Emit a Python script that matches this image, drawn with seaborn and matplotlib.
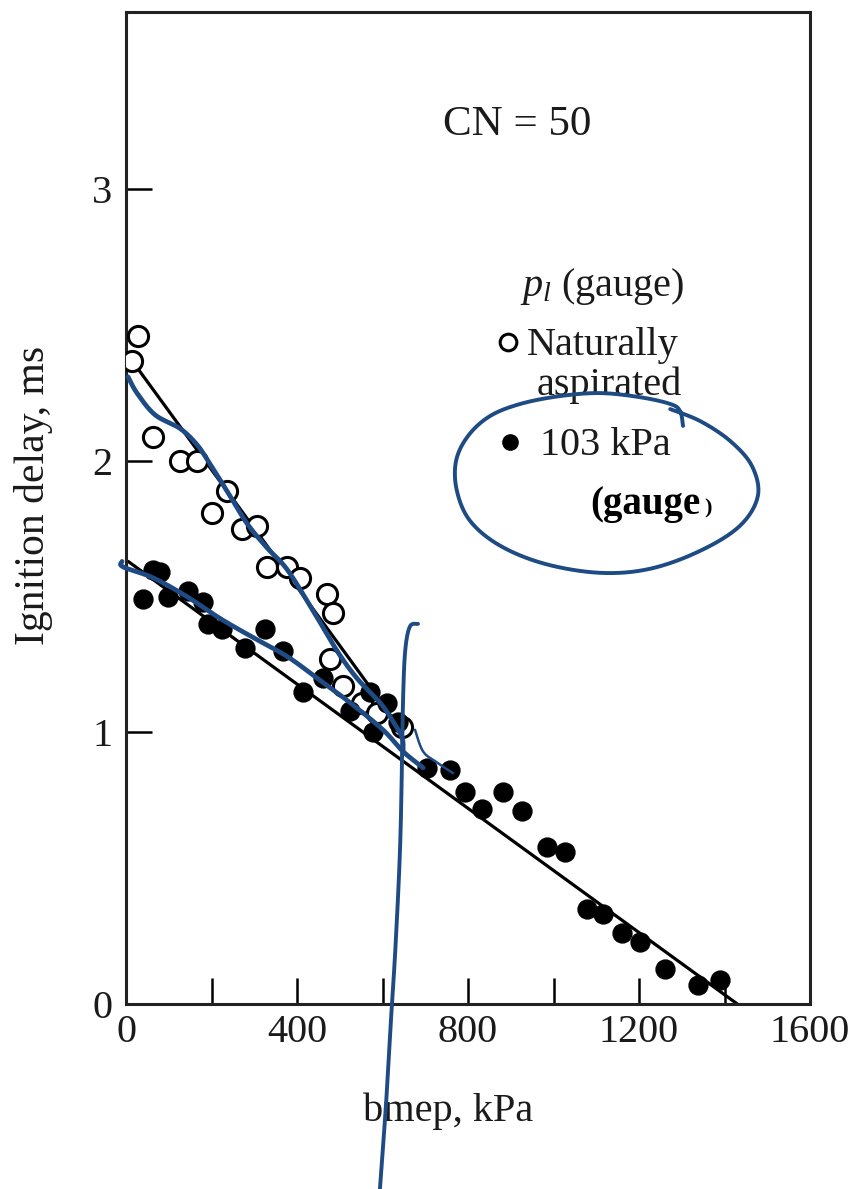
import matplotlib
matplotlib.use("Agg")
import numpy as np
import matplotlib.pyplot as plt
from matplotlib.ticker import FixedLocator
import seaborn as sns

# Ignition delay vs. bmep, cetane number 50
# Naturally aspirated (open circles)
na_bmep = [14, 28, 63, 126, 166, 201, 236, 271, 306, 330, 376, 407,
           470, 485, 477, 508, 552, 587, 645]
na_delay = [2.37, 2.46, 2.09, 2.00, 2.00, 1.81, 1.89, 1.75, 1.76, 1.61, 1.61, 1.57,
            1.51, 1.44, 1.27, 1.17, 1.11, 1.07, 1.02]

# 103 kPa (gauge) intake pressure (filled circles)
tc_bmep = [40, 63, 80, 98, 145, 180, 192, 225, 278, 325, 367, 414, 461, 524,
           571, 578, 610, 636, 704, 758, 793, 833, 882, 926, 985, 1027, 1078,
           1116, 1160, 1202, 1261, 1338, 1389]
tc_delay = [1.49, 1.60, 1.59, 1.50, 1.52, 1.48, 1.40, 1.38, 1.31, 1.38, 1.30, 1.15,
            1.20, 1.08, 1.15, 1.00, 1.11, 1.04, 0.87, 0.86, 0.78, 0.72, 0.78, 0.71,
            0.58, 0.56, 0.35, 0.33, 0.26, 0.23, 0.13, 0.07, 0.09]

# Straight-line fits
na_fit_bmep = [30, 650]
na_fit_delay = [2.335, 0.996]
tc_fit_bmep = [5, 1430]
tc_fit_delay = [1.63, 0.0]

x_major = [0, 400, 800, 1200, 1600]
x_minor = [200, 600, 1000, 1400]
y_major = [0, 1, 2, 3]

# Hand-drawn pen marks (data units)
ink_upper_x = [4.7, 25.7, 67.8, 126, 166, 196, 236, 283, 330, 377, 437, 494, 540, 594, 625, 646, 648]
ink_upper_y = [2.31, 2.25, 2.17, 2.12, 2.06, 1.99, 1.89, 1.77, 1.68, 1.60, 1.45, 1.30, 1.20, 1.11, 1.04, 0.98, 0.93]
ink_lower_x = [-9.4, -7, 63, 143, 220, 297, 377, 447, 524, 601, 648, 695]
ink_lower_y = [1.63, 1.61, 1.57, 1.50, 1.42, 1.35, 1.28, 1.20, 1.11, 1.01, 0.93, 0.87]
ink_vert_x = [683, 664, 653, 648, 646, 641, 630, 622, 609, 594]
ink_vert_y = [1.40, 1.39, 1.30, 1.12, 0.93, 0.57, 0.20, 0.0, -0.35, -0.68]
ink_hook_x = [676, 695, 727, 765]
ink_hook_y = [1.01, 0.93, 0.89, 0.85]
ink_loop_x = [1303, 1296, 1273, 1202, 1109, 1015, 922, 851, 800, 772, 774, 805, 875,
              980, 1109, 1226, 1343, 1436, 1478, 1464, 1413, 1343, 1273]
ink_loop_y = [2.129, 2.184, 2.210, 2.235, 2.250, 2.239, 2.210, 2.165, 2.092, 2.000,
              1.890, 1.779, 1.688, 1.621, 1.588, 1.603, 1.669, 1.761, 1.871, 1.982,
              2.074, 2.147, 2.191]

INK = "#1e4b83"


def pen_path(xs, ys, n=16):
    """Catmull-Rom curve through the pen control points."""
    P = np.column_stack([xs, ys]).astype(float)
    P = np.vstack([P[0], P, P[-1]])
    t = np.linspace(0, 1, n, endpoint=False)[:, None]
    parts = []
    for i in range(1, len(P) - 2):
        p0, p1, p2, p3 = P[i - 1], P[i], P[i + 1], P[i + 2]
        parts.append(0.5 * (2 * p1 + (-p0 + p2) * t
                            + (2 * p0 - 5 * p1 + 4 * p2 - p3) * t ** 2
                            + (-p0 + 3 * p1 - 3 * p2 + p3) * t ** 3))
    parts.append(P[-2][None])
    C = np.vstack(parts)
    return C[:, 0], C[:, 1]


sns.set_style("ticks")
plt.rcParams["font.family"] = ["Liberation Serif", "DejaVu Serif"]
plt.rcParams["mathtext.fontset"] = "custom"
plt.rcParams["mathtext.rm"] = "Liberation Serif"
plt.rcParams["mathtext.it"] = "Liberation Serif:italic"

fig = plt.figure(figsize=(8.48, 11.89), dpi=100)
ax = fig.add_axes([0.1486, 0.1556, 0.8066, 0.8344])

# fitted lines
sns.lineplot(x=na_fit_bmep, y=na_fit_delay, ax=ax, color="black", lw=2.3,
             sort=False, estimator=None)
sns.lineplot(x=tc_fit_bmep, y=tc_fit_delay, ax=ax, color="black", lw=2.3,
             sort=False, estimator=None)

# measured points
sns.scatterplot(x=na_bmep, y=na_delay, ax=ax, marker="o", s=210,
                facecolor="white", edgecolor="black", linewidth=2.2, zorder=3)
sns.scatterplot(x=tc_bmep, y=tc_delay, ax=ax, marker="o", s=185,
                facecolor="black", edgecolor="black", linewidth=1.0, zorder=3)

ax.set_xlim(0, 1600)
ax.set_ylim(0, 3.654)
ax.xaxis.set_major_locator(FixedLocator(x_major))
ax.xaxis.set_minor_locator(FixedLocator(x_minor))
ax.yaxis.set_major_locator(FixedLocator(y_major))
ax.set_xticklabels([str(v) for v in x_major])
ax.set_yticklabels([str(v) for v in y_major])

ax.tick_params(axis="both", which="both", direction="in", length=19, width=1.8,
               color="black", labelsize=29, labelcolor="#1a1a1a")
ax.tick_params(axis="x", which="major", pad=7)
ax.tick_params(axis="y", which="major", pad=10)
for sp in ax.spines.values():
    sp.set_linewidth(2.2)
    sp.set_color("#222222")

ax.set_xlabel("bmep, kPa", fontsize=29, color="#1a1a1a")
ax.set_ylabel("Ignition delay, ms", fontsize=30, color="#1a1a1a")
ax.xaxis.set_label_coords(0.471, -0.0897)
ax.yaxis.set_label_coords(-0.107, 0.513)

# annotations inside the frame
ax.text(0.463, 0.876, "CN = 50", transform=ax.transAxes, fontsize=31,
        ha="left", va="baseline", color="#1a1a1a")
ax.text(0.576, 0.714, r"$p_l$ (gauge)", transform=ax.transAxes, fontsize=29,
        ha="left", va="baseline", color="#1a1a1a")
ax.plot([0.558], [0.667], transform=ax.transAxes, marker="o", ms=12,
        mfc="white", mec="black", mew=2.2, ls="none")
ax.text(0.586, 0.654, "Naturally", transform=ax.transAxes, fontsize=29,
        ha="left", va="baseline", color="#1a1a1a")
ax.text(0.601, 0.614, "aspirated", transform=ax.transAxes, fontsize=29,
        ha="left", va="baseline", color="#1a1a1a")
ax.plot([0.561], [0.566], transform=ax.transAxes, marker="o", ms=11,
        mfc="black", mec="black", ls="none")
ax.text(0.605, 0.553, "103 kPa", transform=ax.transAxes, fontsize=29,
        ha="left", va="baseline", color="#1a1a1a")
ax.text(0.678, 0.494, "(gauge", transform=ax.transAxes, fontsize=28,
        fontweight="bold", ha="left", va="baseline", color="black")
ax.text(0.846, 0.494, ")", transform=ax.transAxes, fontsize=16,
        fontweight="bold", ha="left", va="baseline", color="black")

# pen marks
pen = dict(color=INK, solid_capstyle="round", solid_joinstyle="round",
           clip_on=False, zorder=5)
ax.plot(*pen_path(ink_upper_x, ink_upper_y), lw=3.4, **pen)
ax.plot(*pen_path(ink_lower_x, ink_lower_y), lw=3.4, **pen)
ax.plot(*pen_path(ink_vert_x, ink_vert_y), lw=2.8, **pen)
ax.plot(*pen_path(ink_hook_x, ink_hook_y), lw=1.8, **pen)
ax.plot(*pen_path(ink_loop_x, ink_loop_y), lw=2.8, **pen)

fig.savefig("out.png", dpi=100)
